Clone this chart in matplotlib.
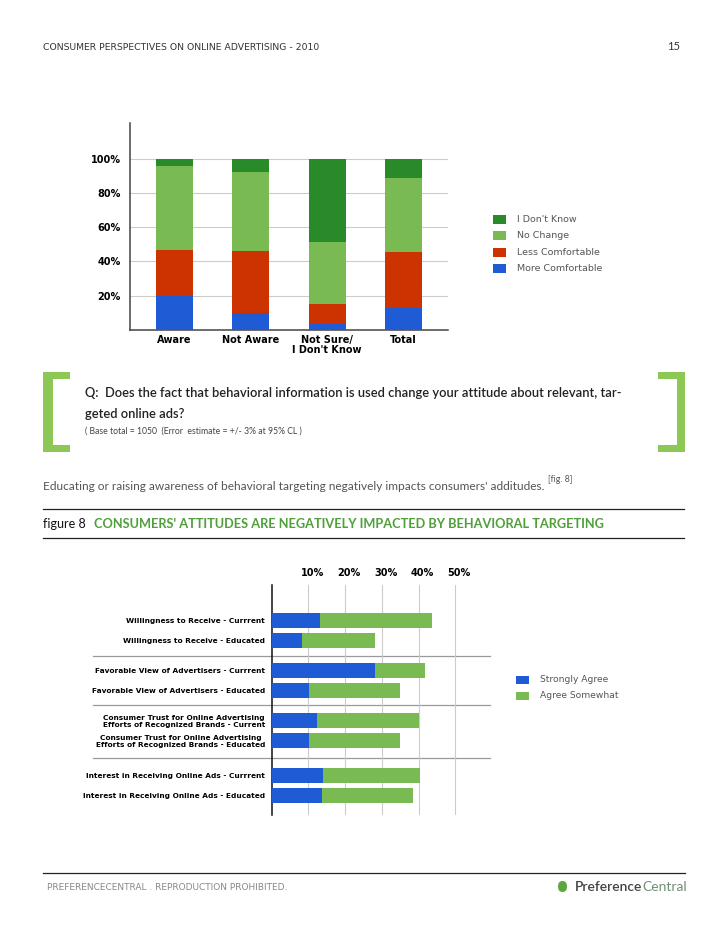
import matplotlib
matplotlib.use("Agg")
import matplotlib.pyplot as plt
import matplotlib.transforms as mtransforms
from matplotlib.patches import Rectangle, FancyBboxPatch
from matplotlib.lines import Line2D
import numpy as np

# --- data: top chart (share of respondents, %) ---
groups = ["Aware", "Not Aware", "Not Sure/\nI Don't Know", "Total"]
more_comfortable = [20.0, 10.0, 3.5, 13.0]
less_comfortable = [26.5, 36.0, 11.7, 32.7]
no_change = [49.3, 46.0, 36.0, 42.7]
dont_know = [4.2, 8.0, 48.8, 11.6]
top_ticks = [20, 40, 60, 80, 100]

# --- data: figure 8 ---
items = ["Willingness to Receive - Currrent",
         "Willingness to Receive - Educated",
         "Favorable View of Advertisers - Currrent",
         "Favorable View of Advertisers - Educated",
         "Consumer Trust for Online Advertising\nEfforts of Recognized Brands - Current",
         "Consumer Trust for Online Advertising\nEfforts of Recognized Brands - Educated",
         "Interest in Receiving Online Ads - Currrent",
         "Interest in Receiving Online Ads - Educated"]
strongly_agree = [13.2, 8.2, 28.2, 10.2, 12.3, 10.2, 14.1, 13.6]
agree_somewhat = [30.4, 20.0, 13.6, 24.8, 27.7, 24.8, 26.4, 24.8]
fig8_ticks = [10, 20, 30, 40, 50]

BLUE = "#1f5bd5"
RED = "#cc3300"
LGREEN = "#7aba52"
DGREEN = "#288a28"
BRACKET = "#8dc756"
TITLE_GREEN = "#4f9f3a"

W, H = 728, 942
fig = plt.figure(figsize=(W / 100, H / 100), dpi=100)
fig.patch.set_facecolor("white")


def fx(x):
    return x / W


def fy(y):
    return 1 - y / H


def ftext(x, y, s, **kw):
    return fig.text(fx(x), fy(y), s, **kw)


def frect(x, y, w, h, color):
    fig.patches.append(Rectangle((fx(x), fy(y + h)), w / W, h / H,
                                 transform=fig.transFigure, color=color, lw=0))


def fline(x0, x1, y, color="#222222", lw=0.9):
    fig.lines.append(Line2D([fx(x0), fx(x1)], [fy(y), fy(y)],
                            transform=fig.transFigure, color=color, lw=lw))


body = "Lato"
chart = "DejaVu Sans"

# header
ftext(43, 47, "CONSUMER PERSPECTIVES ON ONLINE ADVERTISING - 2010", family=chart,
      fontsize=6.65, color="#333333", va="center")
ftext(680, 47, "15", family=body, fontsize=8, color="#333333", va="center", ha="right")

# ---------------- top chart ----------------
ax1 = fig.add_axes([fx(130), fy(330), (448 - 130) / W, (330 - 123) / H])
x = np.arange(len(groups))
bw = 0.48
ax1.bar(x, more_comfortable, bw, color=BLUE, zorder=3)
bottom = np.array(more_comfortable)
ax1.bar(x, less_comfortable, bw, bottom=bottom, color=RED, zorder=3)
bottom = bottom + np.array(less_comfortable)
ax1.bar(x, no_change, bw, bottom=bottom, color=LGREEN, zorder=3)
bottom = bottom + np.array(no_change)
ax1.bar(x, dont_know, bw, bottom=bottom, color=DGREEN, zorder=3)
ax1.set_xlim(-0.58, 3.58)
ax1.set_ylim(0, 120.7)
ax1.set_yticks(top_ticks)
ax1.set_yticklabels([f"{t}%" for t in top_ticks], fontweight="bold", family=chart, fontsize=7)
ax1.set_xticks(x)
ax1.set_xticklabels(groups, fontweight="bold", family=chart, fontsize=7, linespacing=1.0)
ax1.tick_params(axis="y", length=0, pad=6.5)
ax1.tick_params(axis="x", length=0, pad=3.5)
ax1.yaxis.grid(True, color="#cccccc", lw=0.8, zorder=0)
for s in ["top", "right"]:
    ax1.spines[s].set_visible(False)
for s in ["left", "bottom"]:
    ax1.spines[s].set_color("#444444")
    ax1.spines[s].set_linewidth(1.1)

leg1 = [("I Don't Know", DGREEN), ("No Change", LGREEN),
        ("Less Comfortable", RED), ("More Comfortable", BLUE)]
for i, (lab, col) in enumerate(leg1):
    yc = 219 + i * 16.6
    frect(493, yc - 4.5, 13, 9, col)
    ftext(517, yc, lab, family=chart, fontsize=6.8, color="#555555", va="center")

# bracket + question
frect(42.7, 372, 10, 80, BRACKET)
frect(42.7, 372, 27.3, 7, BRACKET)
frect(42.7, 445, 27.3, 7, BRACKET)
frect(676.7, 372, 8.3, 80, BRACKET)
frect(658.3, 372, 26.7, 7, BRACKET)
frect(658.3, 445, 26.7, 7, BRACKET)

ftext(85, 393, "Q:  Does the fact that behavioral information is used change your attitude about relevant, tar-",
      family=body, fontsize=9.3, fontweight="semibold", color="#222222", va="center")
ftext(85, 414, "geted online ads?", family=body, fontsize=9.3, fontweight="semibold",
      color="#222222", va="center")
ftext(85, 431, "( Base total = 1050  (Error  estimate = +/- 3% at 95% CL )", family=body,
      fontsize=6.2, color="#444444", va="center")

ftext(43, 486, "Educating or raising awareness of behavioral targeting negatively impacts consumers' additudes.",
      family=body, fontsize=8.55, color="#555555", va="center")
ftext(548, 479, "[fig. 8]", family=body, fontsize=6.3, color="#555555", va="center")

fline(43, 684, 509.3)
fline(43, 684, 538.3)
ftext(43, 524, "figure 8", family=body, fontsize=9, color="#111111", va="center")
ftext(94, 524, "CONSUMERS' ATTITUDES ARE NEGATIVELY IMPACTED BY BEHAVIORAL TARGETING",
      family=body, fontsize=9.2, fontweight="bold", color=TITLE_GREEN, va="center")

# ---------------- figure 8 chart ----------------
ax2 = fig.add_axes([fx(271.7), fy(815), 198.2 / W, (815 - 585) / H])
group_start = [0, 2.5, 5.0, 7.75]
ypos = np.array([g + k for g in group_start for k in (0, 1)])
bh = 0.75
ax2.barh(ypos, strongly_agree, bh, color=BLUE, zorder=3)
ax2.barh(ypos, agree_somewhat, bh, left=strongly_agree, color=LGREEN, zorder=3)
ax2.set_xlim(0, 54)
ax2.set_ylim(9.75, -1.79)
ax2.set_yticks(ypos)
ax2.set_yticklabels(items, fontweight="bold", family=chart, fontsize=5.35,
                    linespacing=1.15, multialignment="center")
ax2.tick_params(axis="y", length=0, pad=4.8)
ax2.xaxis.tick_top()
ax2.set_xticks(fig8_ticks)
ax2.set_xticklabels([f"{t}%" for t in fig8_ticks], fontweight="bold", family=chart, fontsize=7)
ax2.tick_params(axis="x", length=0, pad=5)
off = mtransforms.ScaledTranslation(4 / 100, 0, fig.dpi_scale_trans)
for lbl in ax2.get_xticklabels():
    lbl.set_transform(lbl.get_transform() + off)
ax2.xaxis.grid(True, color="#cccccc", lw=0.8, zorder=0)
for s in ["top", "right", "bottom"]:
    ax2.spines[s].set_visible(False)
ax2.spines["left"].set_color("#111111")
ax2.spines["left"].set_linewidth(1.1)
for k in range(1, len(group_start)):
    ysep = (group_start[k - 1] + 1 + group_start[k]) / 2
    ax2.plot([-0.903 * 54, 1.10 * 54], [ysep, ysep], color="#999999", lw=0.9,
             clip_on=False, zorder=1)

leg2 = [("Strongly Agree", BLUE), ("Agree Somewhat", LGREEN)]
for i, (lab, col) in enumerate(leg2):
    yc = 680 + i * 15.5
    frect(516, yc - 4, 13, 8, col)
    ftext(540, yc, lab, family=chart, fontsize=6.6, color="#555555", va="center")

# footer
fline(43, 685, 872.5)
ftext(47, 887, "PREFERENCECENTRAL . REPRODUCTION PROHIBITED.", family=chart,
      fontsize=6.5, color="#888888", va="center")
fig.patches.append(FancyBboxPatch((fx(558), fy(892)), 9 / W, 11 / H,
                                  boxstyle="round,pad=0,rounding_size=0.006",
                                  transform=fig.transFigure, color="#5aa83c", lw=0))
t = ftext(575, 887, "Preference", family=body, fontsize=10, fontweight="semibold",
          color="#444444", va="center")
fig.add_artist(plt.Annotation("Central", xy=(1, 0.5), xycoords=t, va="center",
                              family=body, fontsize=10, color="#6f8f76"))

fig.savefig("out.png", dpi=100)
